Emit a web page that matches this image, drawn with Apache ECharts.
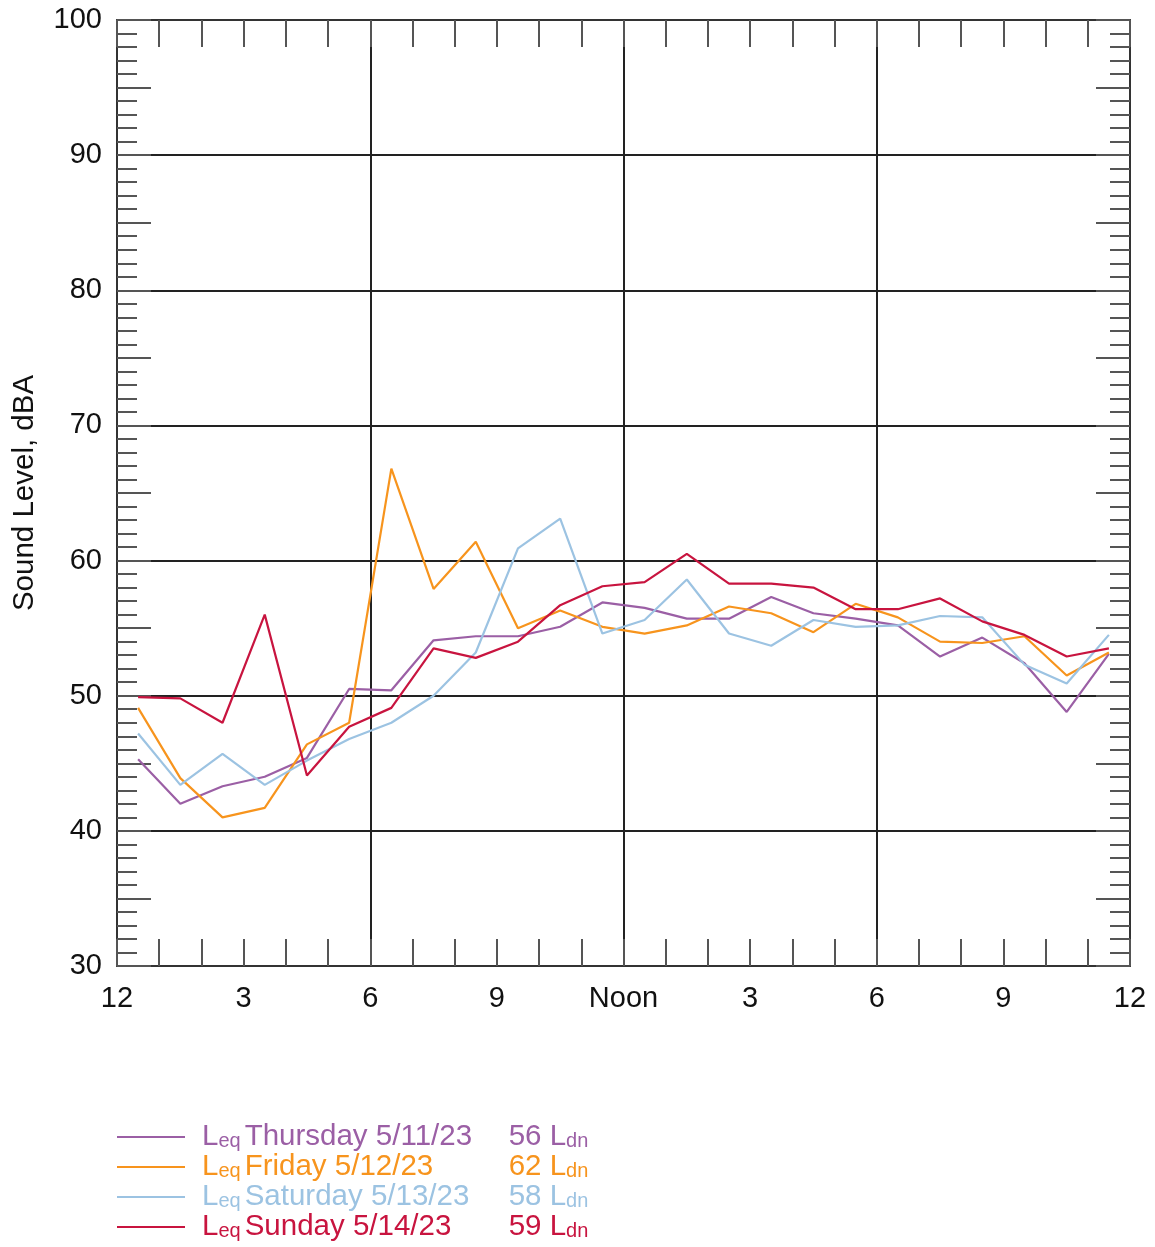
<!DOCTYPE html>
<html>
<head>
<meta charset="utf-8">
<script src="https://cdn.jsdelivr.net/npm/echarts@6/dist/echarts.min.js"></script>
<style>
html,body{margin:0;padding:0;background:#fff;}
#chart{width:1155px;height:1247px;}
</style>
</head>
<body>
<div id="chart"></div>
<script>
// Hour bins (midpoint of each hour, 0 = midnight)
const hours = [0.5,1.5,2.5,3.5,4.5,5.5,6.5,7.5,8.5,9.5,10.5,11.5,12.5,13.5,14.5,15.5,16.5,17.5,18.5,19.5,20.5,21.5,22.5,23.5];
const xTickLabels = ['12','3','6','9','Noon','3','6','9','12'];
const seriesNames = ['Thursday 5/11/23','Friday 5/12/23','Saturday 5/13/23','Sunday 5/14/23'];
const ldnValues = [56, 62, 58, 59];
const seriesColors = ['#9b5fa5','#f7941d','#9cc3e2','#c8143f'];
const thursday = [45.3,42.0,43.3,44.0,45.4,50.5,50.4,54.1,54.4,54.4,55.1,56.9,56.5,55.7,55.7,57.3,56.1,55.7,55.2,52.9,54.3,52.4,48.8,53.1];
const friday   = [49.1,43.9,41.0,41.7,46.4,48.0,66.8,57.9,61.4,55.0,56.3,55.1,54.6,55.2,56.6,56.1,54.7,56.8,55.8,54.0,53.9,54.4,51.5,53.2];
const saturday = [47.2,43.4,45.7,43.4,45.2,46.8,48.0,50.0,53.2,60.9,63.1,54.6,55.6,58.6,54.6,53.7,55.6,55.1,55.2,55.9,55.8,52.3,50.9,54.5];
const sunday   = [49.9,49.8,48.0,56.0,44.1,47.7,49.1,53.5,52.8,54.0,56.7,58.1,58.4,60.5,58.3,58.3,58.0,56.4,56.4,57.2,55.5,54.5,52.9,53.5];
const allValues = [thursday, friday, saturday, sunday];

const FONT = 'Liberation Sans, Arial, sans-serif';
const chart = echarts.init(document.getElementById('chart'), null, {renderer:'canvas'});

const tickStyle = {color:'#555', width:2};
const lineStyleAxis = {color:'#333', width:2};
const series = seriesNames.map((n,i)=>({
  name:n, type:'line', xAxisIndex:0, yAxisIndex:0,
  data: hours.map((h,k)=>[h, allValues[i][k]]),
  symbol:'none', showSymbol:false,
  lineStyle:{color:seriesColors[i], width:2.2}, itemStyle:{color:seriesColors[i]},
  z: 5
}));

chart.setOption({
  animation:false,
  backgroundColor:'#fff',
  grid:{left:117, top:20, width:1013, height:946, containLabel:false},
  xAxis:[
    {type:'value', position:'bottom', min:0, max:24, interval:1,
     axisLine:{show:true, onZero:false, lineStyle:lineStyleAxis},
     axisTick:{show:true, inside:true, length:27, lineStyle:tickStyle},
     axisLabel:{show:true, fontFamily:FONT, fontSize:29, color:'#111', margin:18,
       formatter:(v)=> (Math.round(v)%3===0 ? xTickLabels[Math.round(v)/3] : '')},
     splitLine:{show:false}},
    {type:'value', position:'top', min:0, max:24, interval:1,
     axisLine:{show:true, onZero:false, lineStyle:lineStyleAxis},
     axisTick:{show:true, inside:true, length:27, lineStyle:tickStyle},
     axisLabel:{show:false}, splitLine:{show:false}},
    {type:'value', position:'bottom', min:0, max:24, interval:6,
     axisLine:{show:false, onZero:false}, axisTick:{show:false}, axisLabel:{show:false},
     splitLine:{show:true, lineStyle:{color:'#222', width:2}}}
  ],
  yAxis:[
    {type:'value', position:'left', min:30, max:100, interval:10, offset:0,
     name:'Sound Level, dBA', nameLocation:'middle', nameGap:77, nameRotate:90,
     nameTextStyle:{fontFamily:FONT, fontSize:29.5, color:'#111'},
     axisLine:{show:true, onZero:false, lineStyle:lineStyleAxis},
     axisTick:{show:false},
     axisLabel:{show:true, fontFamily:FONT, fontSize:29, color:'#111', margin:15},
     splitLine:{show:true, lineStyle:{color:'#222', width:2}}},
    {type:'value', position:'left', min:30, max:100, interval:5, offset:0,
     axisLine:{show:false, onZero:false},
     axisTick:{show:true, inside:true, length:34, lineStyle:tickStyle},
     minorTick:{show:true, splitNumber:5, length:20, lineStyle:tickStyle},
     axisLabel:{show:false}, splitLine:{show:false}},
    {type:'value', position:'right', min:30, max:100, interval:5, offset:0,
     axisLine:{show:true, onZero:false, lineStyle:lineStyleAxis},
     axisTick:{show:true, inside:true, length:34, lineStyle:tickStyle},
     minorTick:{show:true, splitNumber:5, length:20, lineStyle:tickStyle},
     axisLabel:{show:false}, splitLine:{show:false}}
  ],
  legend:{
    orient:'vertical', left:117, top:1122, padding:0, itemWidth:68, itemHeight:2, itemGap:0,
    icon:'rect', selectedMode:false,
    data: seriesNames.map((n,i)=>({name:n, textStyle:{color:seriesColors[i]}})),
    formatter:(name)=>{
      const i = seriesNames.indexOf(name);
      return '{L|L}{s1|eq}{n|' + name + '}{v|' + ldnValues[i] + ' L}{s|dn}';
    },
    textStyle:{
      fontFamily:FONT, fontSize:29.5,
      rich:{
        L:{fontFamily:FONT, fontSize:29.5, lineHeight:28, padding:[0,0,0,12]},
        s1:{fontFamily:FONT, fontSize:20, lineHeight:28, verticalAlign:'bottom', padding:[0,4,0,0]},
        s:{fontFamily:FONT, fontSize:20, lineHeight:28, verticalAlign:'bottom'},
        n:{fontFamily:FONT, fontSize:29.5, lineHeight:28, width:264},
        v:{fontFamily:FONT, fontSize:29.5, lineHeight:28}
      }
    }
  },
  series: series
});
</script>
</body>
</html>
